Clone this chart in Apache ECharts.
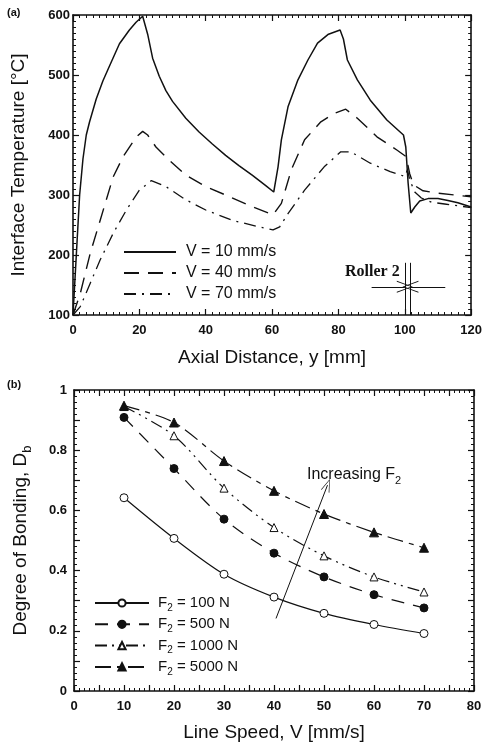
<!DOCTYPE html>
<html><head><meta charset="utf-8">
<script src="https://cdn.jsdelivr.net/npm/echarts@6/dist/echarts.min.js"></script>
<style>html,body{margin:0;padding:0;background:#fff}#c{width:485px;height:747px}</style>
</head><body><div id="c"></div>
<script>
// ---------- Panel (a): interface temperature vs axial distance ----------
const aNames = ['V = 10 mm/s', 'V = 40 mm/s', 'V = 70 mm/s'];
const v10X = [0,1,2,3,4,5,7,9,11,14,17,19,21,22.5,24,26,28,30,34,38,42,46,50,54,58,60.5,61.8,62.8,64.8,67.8,70.8,73.7,77,80.5,81.5,82.7,85.7,89.6,94.6,99.6,100.3,101,101.8,103,104.5,107,110,113,116,120];
const v10T = [100,200,300,360,400,422,460,490,515,552,575,588,598,568,528,498,474,456,428,405,385,366,349,333,316,305,347,392,447,492,525,553,568,575,560,525,492,458,425,400,380,320,270,280,290,294,294,291,287,280];
const v40X = [0,2.2,5.2,8.2,12.1,15.1,19.1,21,22.5,25,29,34,40,46,52.9,60.3,62.8,65.8,69.8,74.7,78.7,82.2,85.7,91.6,97.6,100.4,101.5,102.6,105.5,110,115,120];
const v40T = [100,136,203,258,330,364,397,406,400,380,358,333,314,300,283,267,286,342,392,422,436,443,428,397,375,364,335,317,307,303,300,297];
const v70X = [0,2.2,5.2,8.2,12.1,16.1,20,23.6,28,34,40,47.9,55.9,60.3,62.3,64.8,69.8,75.7,80.7,83.7,89.6,95.6,100,100.8,101.5,103,105,108,112,116,120];
const v70T = [100,114,153,192,236,275,308,324,314,292,275,258,247,242,247,269,308,347,372,372,353,339,331,342,325,305,295,288,285,282,279];
const aXTicks = [0, 20, 40, 60, 80, 100, 120];
const aYTicks = [100, 200, 300, 400, 500, 600];
// Roller 2 annotation (data coordinates)
const rollerX = [100, 101.7];
const rollerY = [100, 187];
const rollerArrowY = 147;
const rollerArrowFrom = [90, 112.2];

// ---------- Panel (b): degree of bonding vs line speed ----------
const bNames = ['F2 = 100 N', 'F2 = 500 N', 'F2 = 1000 N', 'F2 = 5000 N'];
const bLabels = ['100 N', '500 N', '1000 N', '5000 N'];
const speeds = [10, 20, 30, 40, 50, 60, 70];
const db100 = [0.642, 0.507, 0.388, 0.312, 0.258, 0.221, 0.191];
const db500 = [0.909, 0.739, 0.571, 0.458, 0.379, 0.320, 0.276];
const db1000 = [0.945, 0.848, 0.674, 0.543, 0.449, 0.379, 0.329];
const db5000 = [0.948, 0.892, 0.764, 0.665, 0.588, 0.527, 0.476];
const bXTicks = [0, 10, 20, 30, 40, 50, 60, 70, 80];
const bYTicks = [0, 0.2, 0.4, 0.6, 0.8, 1];
const incArrow = [[40.4, 0.241], [50.7, 0.684]];

const FONT = '"Liberation Sans", Arial, Helvetica, sans-serif';
const INK = '#111';
const zip = (xs, ys) => xs.map((x, i) => [x, ys[i]]);
const chevron = 'path://M0,0 L6,12 L5,12 L0,1.5 L-5,12 L-6,12 Z';

function axis(o) {
  const base = {
    type: 'value',
    gridIndex: o.grid,
    position: o.position,
    min: o.min, max: o.max, interval: o.interval,
    axisLine: { show: true, onZero: false, lineStyle: { color: INK, width: 1.6 } },
    axisTick: { show: true, inside: true, length: 6, lineStyle: { color: INK, width: 1.2 } },
    minorTick: { show: true, splitNumber: o.minor, length: 3, lineStyle: { color: INK, width: 1 } },
    splitLine: { show: false },
    minorSplitLine: { show: false },
    axisLabel: o.labels ? {
      show: true, margin: o.margin, color: INK, fontFamily: FONT, fontSize: 13, fontWeight: 'bold',
      formatter: o.fmt
    } : { show: false }
  };
  if (o.name) {
    base.name = o.name;
    base.nameLocation = 'middle';
    base.nameGap = o.nameGap;
    base.nameTextStyle = Object.assign({ color: INK, fontFamily: FONT, fontSize: 19 }, o.nameStyle || {});
  }
  return base;
}

const chart = echarts.init(document.getElementById('c'), null, { renderer: 'canvas' });

const option = {
  animation: false,
  backgroundColor: '#fff',
  grid: [
    { left: 73, top: 15, width: 402, height: 300 },
    { left: 72, top: 390, width: 402, height: 301 }
  ],
  xAxis: [
    axis({ grid: 0, position: 'bottom', min: aXTicks[0], max: aXTicks[aXTicks.length - 1], interval: aXTicks[1] - aXTicks[0], minor: 10, labels: true, margin: 9, name: 'Axial Distance, y [mm]', nameGap: 33 }),
    axis({ grid: 0, position: 'top', min: aXTicks[0], max: aXTicks[aXTicks.length - 1], interval: aXTicks[1] - aXTicks[0], minor: 10, labels: false }),
    axis({ grid: 1, position: 'bottom', min: bXTicks[0], max: bXTicks[bXTicks.length - 1], interval: (bXTicks[1] - bXTicks[0]) / 2, minor: 5, labels: true, margin: 9,
      fmt: v => (bXTicks.indexOf(v) >= 0 ? String(v) : ''), name: 'Line Speed, V [mm/s]', nameGap: 32 }),
    axis({ grid: 1, position: 'top', min: bXTicks[0], max: bXTicks[bXTicks.length - 1], interval: (bXTicks[1] - bXTicks[0]) / 2, minor: 5, labels: false })
  ],
  yAxis: [
    axis({ grid: 0, position: 'left', min: aYTicks[0], max: aYTicks[aYTicks.length - 1], interval: aYTicks[1] - aYTicks[0], minor: 10, labels: true, margin: 3, name: 'Interface Temperature [°C]', nameGap: 45 }),
    axis({ grid: 0, position: 'right', min: aYTicks[0], max: aYTicks[aYTicks.length - 1], interval: aYTicks[1] - aYTicks[0], minor: 10, labels: false }),
    axis({ grid: 1, position: 'left', min: bYTicks[0], max: bYTicks[bYTicks.length - 1], interval: (bYTicks[1] - bYTicks[0]) / 2, minor: 5, labels: true, margin: 7,
      fmt: v => { const r = Math.round(v * 10); if (r % 2 !== 0) return ''; return r === 0 ? '0' : (r === 10 ? '1' : (r / 10).toFixed(1)); },
      name: 'Degree of Bonding, D{s|b}', nameGap: 40,
      nameStyle: { lineHeight: 26, rich: { s: { fontSize: 13, fontFamily: FONT, color: INK, verticalAlign: 'bottom', lineHeight: 26 } } } }),
    axis({ grid: 1, position: 'right', min: bYTicks[0], max: bYTicks[bYTicks.length - 1], interval: (bYTicks[1] - bYTicks[0]) / 2, minor: 5, labels: false })
  ],
  legend: [
    {
      data: aNames, orient: 'vertical', left: 123, top: 244, padding: 0,
      itemWidth: 52, itemHeight: 14, itemGap: 5, selectedMode: false,
      itemStyle: { color: 'rgba(0,0,0,0)', borderColor: 'rgba(0,0,0,0)', borderWidth: 0 },
      textStyle: { color: INK, fontFamily: FONT, fontSize: 16, lineHeight: 16, padding: [0, 0, 0, 5] }
    },
    {
      data: bNames, orient: 'vertical', left: 94, top: 593, padding: 0,
      itemWidth: 54, itemHeight: 9, itemGap: 1.3, selectedMode: false,
      formatter: n => '{a|F}{s|2}{a| = ' + bLabels[bNames.indexOf(n)] + '}',
      textStyle: {
        color: INK, fontFamily: FONT, fontSize: 15, lineHeight: 20, padding: [0, 0, 0, 4],
        rich: {
          a: { fontSize: 15, fontFamily: FONT, color: INK, lineHeight: 20 },
          s: { fontSize: 10, fontFamily: FONT, color: INK, lineHeight: 20, verticalAlign: 'bottom' }
        }
      }
    }
  ],
  graphic: [
    { type: 'text', left: 7, top: 7, style: { text: '(a)', font: 'bold 11px ' + FONT, fill: INK } },
    { type: 'text', left: 7, top: 379, style: { text: '(b)', font: 'bold 11px ' + FONT, fill: INK } },
    { type: 'text', left: 345, top: 264, style: { text: 'Roller 2', font: 'bold 16px "Liberation Serif", "Times New Roman", serif', fill: INK } },
    { type: 'text', left: 307, top: 467, style: {
        text: 'Increasing F{s|2}', font: '16px ' + FONT, fill: INK,
        rich: { s: { fontSize: 11, fontFamily: FONT, fill: INK, lineHeight: 22, verticalAlign: 'bottom' } }
      } }
  ],
  series: [
    {
      name: aNames[0], type: 'line', xAxisIndex: 0, yAxisIndex: 0, data: zip(v10X, v10T),
      symbol: 'none', lineStyle: { color: INK, width: 1.5, type: 'solid' }, itemStyle: { color: INK },
      markLine: {
        silent: true, animation: false, symbol: ['none', 'none'],
        lineStyle: { color: INK, width: 1, type: 'solid' }, label: { show: false },
        data: [
          [{ coord: [rollerX[0], rollerY[0]] }, { coord: [rollerX[0], rollerY[1]] }],
          [{ coord: [rollerX[1], rollerY[0]] }, { coord: [rollerX[1], rollerY[1]] }],
          [{ coord: [rollerArrowFrom[0], rollerArrowY], symbol: 'none' }, { coord: [rollerX[0], rollerArrowY], symbol: chevron, symbolSize: [12, 16] }],
          [{ coord: [rollerArrowFrom[1], rollerArrowY], symbol: 'none' }, { coord: [rollerX[1], rollerArrowY], symbol: chevron, symbolSize: [12, 16] }]
        ]
      }
    },
    {
      name: aNames[1], type: 'line', xAxisIndex: 0, yAxisIndex: 0, data: zip(v40X, v40T),
      symbol: 'none', lineStyle: { color: INK, width: 1.4, type: [15, 9] }, itemStyle: { color: INK }
    },
    {
      name: aNames[2], type: 'line', xAxisIndex: 0, yAxisIndex: 0, data: zip(v70X, v70T),
      symbol: 'none', lineStyle: { color: INK, width: 1.3, type: [12, 6, 2, 6] }, itemStyle: { color: INK }
    },
    {
      name: bNames[0], type: 'line', xAxisIndex: 2, yAxisIndex: 2, data: zip(speeds, db100), smooth: 0.3,
      symbol: 'circle', symbolSize: 8, lineStyle: { color: INK, width: 1.2, type: 'solid' },
      itemStyle: { color: '#fff', borderColor: INK, borderWidth: 1 },
      markLine: {
        silent: true, animation: false, symbol: ['none', chevron], symbolSize: [9, 13],
        lineStyle: { color: INK, width: 1, type: 'solid' }, label: { show: false },
        data: [[{ coord: incArrow[0] }, { coord: incArrow[1] }]]
      }
    },
    {
      name: bNames[1], type: 'line', xAxisIndex: 2, yAxisIndex: 2, data: zip(speeds, db500), smooth: 0.3,
      symbol: 'circle', symbolSize: 8, lineStyle: { color: INK, width: 1.2, type: [13, 9] },
      itemStyle: { color: INK, borderColor: INK, borderWidth: 1 }
    },
    {
      name: bNames[2], type: 'line', xAxisIndex: 2, yAxisIndex: 2, data: zip(speeds, db1000), smooth: 0.3,
      symbol: 'triangle', symbolSize: 8, lineStyle: { color: INK, width: 1.2, type: [12, 5, 2, 5, 2, 5] },
      itemStyle: { color: '#fff', borderColor: INK, borderWidth: 1 }
    },
    {
      name: bNames[3], type: 'line', xAxisIndex: 2, yAxisIndex: 2, data: zip(speeds, db5000), smooth: 0.3,
      symbol: 'triangle', symbolSize: 9, lineStyle: { color: INK, width: 1.2, type: [16, 6, 5, 6] },
      itemStyle: { color: INK, borderColor: INK, borderWidth: 1 }
    }
  ]
};
chart.setOption(option);
</script></body></html>
